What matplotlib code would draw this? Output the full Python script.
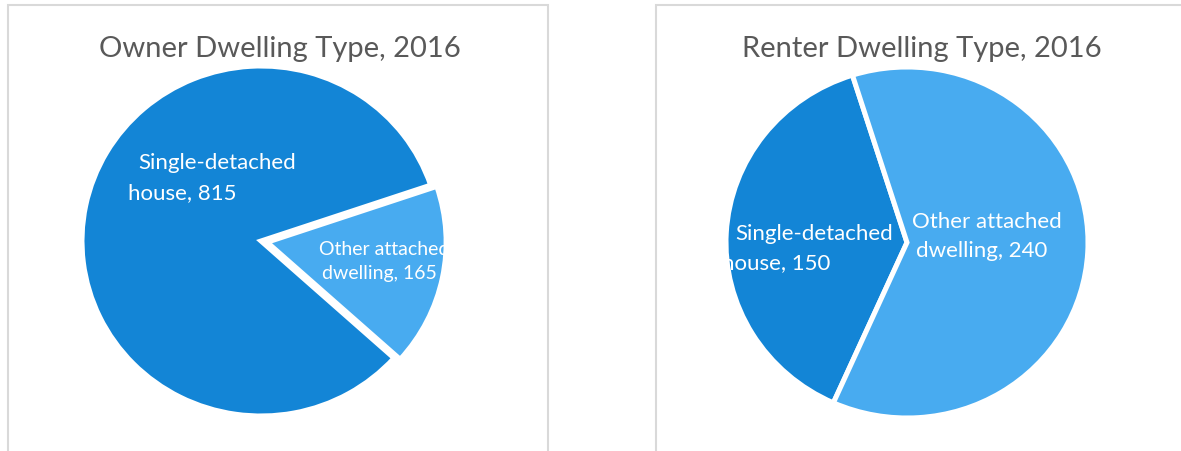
import matplotlib
matplotlib.use("Agg")
import matplotlib.pyplot as plt
from matplotlib.patches import Rectangle

# ---- data ----
categories = ["Single-detached house", "Other attached dwelling"]
owner_values = [815, 165]
renter_values = [150, 240]
titles = ["Owner Dwelling Type, 2016", "Renter Dwelling Type, 2016"]

# ---- style ----
W, H = 1181, 452
DPI = 100
colors = ["#1385D6", "#48ABF0"]
title_color = "#595959"
border_color = "#D9D9D9"
FONT = ["Lato", "DejaVu Sans"]

fig = plt.figure(figsize=(W / DPI, H / DPI), dpi=DPI)

# panel frames (pixel coords -> figure fraction)
def frac_rect(x0, y0, x1, y1):
    return (x0 / W, 1 - y1 / H, (x1 - x0) / W, (y1 - y0) / H)

for (x0, y0, x1, y1) in [(8, 6, 548, 470), (656, 6, 1200, 470)]:
    l, b, w, h = frac_rect(x0, y0, x1, y1)
    fig.patches.append(Rectangle((l, b), w, h, transform=fig.transFigure,
                                 fill=False, edgecolor=border_color, lw=1.5))

panels = [
    dict(values=owner_values, title=titles[0], cx=261, cy=242, rx=179, ry=175,
         start=-42, explode=[0, 0.035], title_x=279.5,
         labels=[[(-0.687, 0.417, "left", 16), (-0.743, 0.246, "left", 16)],
                 [(0.324, -0.074, "left", 14), (0.341, -0.211, "left", 14)]]),
    dict(values=renter_values, title=titles[1], cx=907, cy=243.5, rx=181, ry=175.5,
         start=246, explode=[0, 0], title_x=922,
         labels=[[(-0.950, 0.020, "left", 16), (-0.425, -0.145, "right", 16)],
                 [(0.028, 0.088, "left", 16), (0.050, -0.077, "left", 16)]]),
]

for p in panels:
    ax = fig.add_axes([0, 0, 1, 1])
    wedges, _ = ax.pie(p["values"], colors=colors, startangle=p["start"],
                       counterclock=False, explode=p["explode"], radius=1.0,
                       wedgeprops=dict(edgecolor="white", linewidth=3.6))
    xmin = min(w.center[0] - w.r for w in wedges)
    xmax = max(w.center[0] + w.r for w in wedges)
    y0, y1 = -1.06, 1.06
    ax.set_xlim(xmin, xmax)
    ax.set_ylim(y0, y1)
    ax.set_aspect("auto")
    ax.axis("off")
    left = p["cx"] + xmin * p["rx"]
    width = (xmax - xmin) * p["rx"]
    top = p["cy"] - y1 * p["ry"]
    height = (y1 - y0) * p["ry"]
    ax.set_position([left / W, 1 - (top + height) / H, width / W, height / H])

    for cat, val, pos in zip(categories, p["values"], p["labels"]):
        first, last = cat.rsplit(" ", 1)
        lines = [first, f"{last}, {val}"]
        for line, (x, y, ha, fs) in zip(lines, pos):
            t = ax.text(x, y, line, ha=ha, va="baseline", color="white",
                        fontsize=fs, family=FONT)
            t.set_clip_on(True)

    fig.text(p["title_x"] / W, 1 - 57 / H, p["title"], ha="center", va="baseline",
             color=title_color, fontsize=21, family=FONT)

fig.savefig("out.png", dpi=DPI)
